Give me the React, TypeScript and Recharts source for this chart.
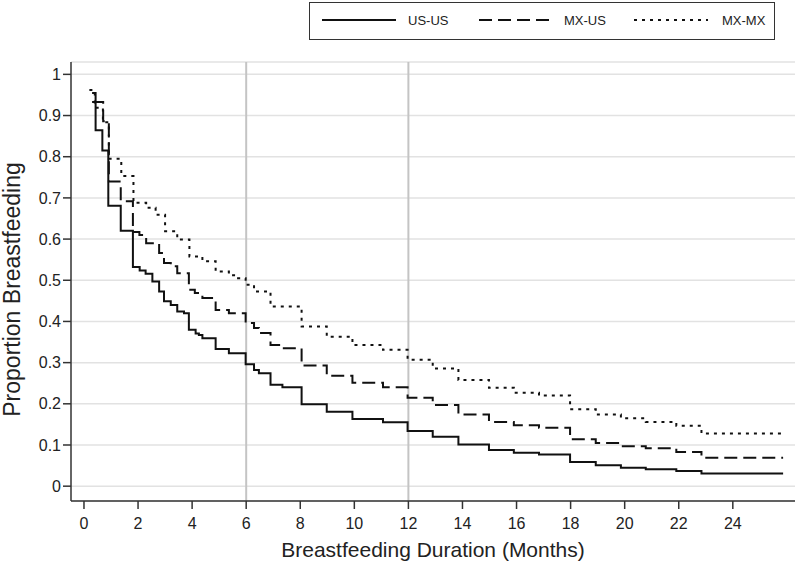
import React from 'react';
import {
  LineChart,
  Line,
  XAxis,
  YAxis,
  CartesianGrid,
  ReferenceLine
} from 'recharts';

// Kaplan-Meier style step curves: [month, proportion]
const usUs: [number, number][] = [
  [0.3, 0.955], [0.43, 0.864], [0.68, 0.815], [0.9, 0.681], [1.36, 0.62],
  [1.81, 0.532], [2.06, 0.524], [2.28, 0.516], [2.53, 0.497], [2.78, 0.473],
  [2.96, 0.449], [3.21, 0.44], [3.45, 0.424], [3.7, 0.42], [3.88, 0.38],
  [4.13, 0.371], [4.25, 0.367], [4.38, 0.359], [4.87, 0.333], [5.36, 0.323],
  [5.98, 0.296], [6.29, 0.282], [6.47, 0.274], [6.9, 0.246], [7.34, 0.24],
  [8.05, 0.199], [8.98, 0.181], [9.93, 0.163], [11.06, 0.155], [11.97, 0.134],
  [12.9, 0.12], [13.85, 0.101], [14.98, 0.088], [15.9, 0.081], [16.83, 0.077],
  [17.98, 0.059], [18.93, 0.051], [19.86, 0.045], [20.78, 0.041], [21.91, 0.037],
  [22.84, 0.031], [25.86, 0.031]
];

const mxUs: [number, number][] = [
  [0.3, 0.933], [0.71, 0.886], [0.92, 0.74], [1.36, 0.692], [1.81, 0.617],
  [2.05, 0.61], [2.3, 0.59], [2.78, 0.566], [2.96, 0.542], [3.21, 0.534],
  [3.45, 0.517], [3.88, 0.477], [4.1, 0.469], [4.38, 0.457], [4.87, 0.428],
  [5.36, 0.42], [5.98, 0.396], [6.29, 0.384], [6.47, 0.372], [6.9, 0.343],
  [7.34, 0.335], [8.05, 0.293], [8.98, 0.268], [9.93, 0.251], [11.06, 0.24],
  [11.97, 0.215], [12.9, 0.197], [13.85, 0.174], [14.98, 0.156], [15.9, 0.148],
  [16.83, 0.142], [17.98, 0.114], [18.93, 0.105], [19.86, 0.097], [20.78, 0.092],
  [21.91, 0.083], [22.84, 0.069], [25.86, 0.069]
];

const mxMx: [number, number][] = [
  [0.2, 0.962], [0.4, 0.919], [0.7, 0.884], [0.92, 0.795], [1.38, 0.753],
  [1.83, 0.688], [2.3, 0.676], [2.65, 0.659], [3.0, 0.619], [3.45, 0.599],
  [3.9, 0.558], [4.38, 0.546], [4.87, 0.521], [5.36, 0.512], [5.7, 0.505],
  [5.98, 0.489], [6.29, 0.473], [6.9, 0.436], [8.05, 0.388], [8.98, 0.363],
  [9.93, 0.343], [11.06, 0.331], [11.97, 0.307], [12.9, 0.286], [13.85, 0.258],
  [14.98, 0.239], [15.9, 0.227], [16.83, 0.22], [17.98, 0.187], [18.93, 0.174],
  [19.86, 0.165], [20.78, 0.156], [21.91, 0.147], [22.84, 0.128], [25.86, 0.128]
];

const xTicks = [0, 2, 4, 6, 8, 10, 12, 14, 16, 18, 20, 22, 24];
const yTicks = [0, 0.1, 0.2, 0.3, 0.4, 0.5, 0.6, 0.7, 0.8, 0.9, 1];
const markerMonths = [6, 12];

const FONT = '"Liberation Sans", Arial, sans-serif';

const toPoints = (rows: [number, number][]) => rows.map(([t, p]) => ({ t, p }));

const series = [
  { name: 'US-US', rows: usUs, dash: undefined as string | undefined },
  { name: 'MX-US', rows: mxUs, dash: '13 6' },
  { name: 'MX-MX', rows: mxMx, dash: '3 5' }
];

const YLabel = ({ viewBox }: any) => {
  const x = viewBox.x + 12;
  const y = viewBox.y + viewBox.height / 2 + 8;
  return (
    <text x={x} y={y} transform={`rotate(-90 ${x} ${y})`} textAnchor="middle"
      dominantBaseline="central" fontFamily={FONT} fontSize={23} fill="#222">
      Proportion Breastfeeding
    </text>
  );
};

const XLabel = ({ viewBox }: any) => (
  <text x={viewBox.x + viewBox.width / 2} y={viewBox.y + 48} textAnchor="middle"
    dominantBaseline="central" fontFamily={FONT} fontSize={21} fill="#222">
    Breastfeeding Duration (Months)
  </text>
);

// legend box drawn on top of the chart, like the Stata one
const LegendBox = () => (
  <div style={{
    position: 'absolute', left: 309, top: 2, width: 464, height: 36,
    border: '1px solid #333', background: '#fff', fontFamily: FONT, fontSize: 13, color: '#222'
  }}>
    <svg width={464} height={36} style={{ position: 'absolute', left: 0, top: 0 }}>
      {series.map((s, i) => {
        const x0 = [12, 169, 324][i];
        const tx = [98, 254, 412][i];
        return (
          <g key={s.name}>
            <line x1={x0} x2={x0 + 74} y1={17} y2={17} stroke="#111" strokeWidth={2}
              strokeDasharray={s.dash} />
            <text x={tx} y={17} dominantBaseline="central" fontFamily={FONT} fontSize={13} fill="#222">
              {s.name}
            </text>
          </g>
        );
      })}
    </svg>
  </div>
);

export default function App() {
  return (
    <div style={{ position: 'absolute', left: 0, top: 0, width: 797, height: 575, background: '#fff' }}>
      <LineChart width={797} height={575} margin={{ top: 62, right: 2, bottom: 0, left: 0 }}>
        <CartesianGrid vertical={false} stroke="#e2e2e2" strokeWidth={1.5} />
        <XAxis
          type="number"
          dataKey="t"
          domain={[-0.48, 26.3]}
          ticks={xTicks}
          allowDataOverflow
          height={74}
          tickSize={8}
          tickMargin={9}
          stroke="#333"
          strokeWidth={1.5}
          tick={{ fontFamily: FONT, fontSize: 16, fill: '#222' }}
          label={<XLabel />}
        />
        <YAxis
          type="number"
          dataKey="p"
          domain={[-0.036, 1.03]}
          ticks={yTicks}
          allowDataOverflow
          width={71}
          tickSize={8}
          tickMargin={2}
          stroke="#333"
          strokeWidth={1.5}
          tickFormatter={(v: number) => String(Math.round(v * 10) / 10)}
          tick={{ fontFamily: FONT, fontSize: 16, fill: '#222' }}
          label={<YLabel />}
        />
        {markerMonths.map((m) => (
          <ReferenceLine key={m} x={m} stroke="#c4c4c4" strokeWidth={2} />
        ))}
        {series.map((s) => (
          <Line
            key={s.name}
            name={s.name}
            data={toPoints(s.rows)}
            dataKey="p"
            type="stepAfter"
            stroke="#111"
            strokeWidth={2}
            strokeDasharray={s.dash}
            dot={false}
            activeDot={false}
            isAnimationActive={false}
          />
        ))}
      </LineChart>
      <LegendBox />
    </div>
  );
}
